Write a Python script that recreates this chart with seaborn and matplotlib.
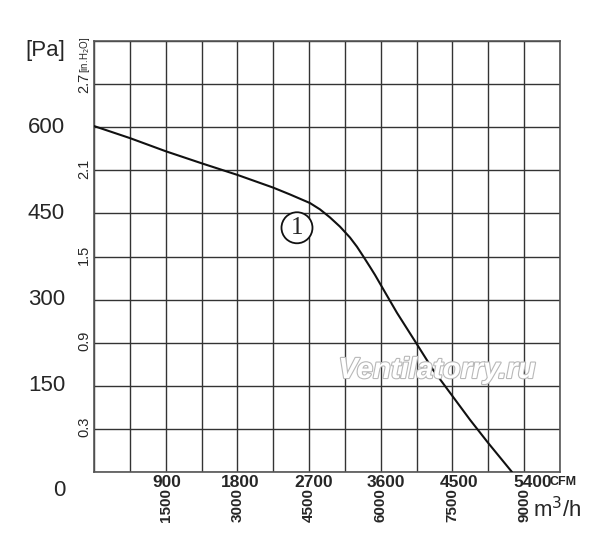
import matplotlib
matplotlib.use("Agg")
import matplotlib.pyplot as plt
import matplotlib.patheffects as pe
import matplotlib.transforms as mtrans
import seaborn as sns
import pandas as pd

# ---- data ----
flow_m3h = [0, 753, 1506, 2259, 3000, 3745, 4100, 4519, 4728, 4937, 5146,
            5356, 5502, 5628, 5774, 5879, 6004, 6339, 6736, 7092, 7510,
            7866, 8243, 8745]
pressure_pa = [602, 581, 558, 537, 517, 495, 483, 468, 457, 443, 427,
               408, 392, 376, 357, 343, 325, 277, 225, 178, 131,
               91, 51, 0]

pa_ticks = [0, 150, 300, 450, 600]
inh2o_ticks = [0.3, 0.9, 1.5, 2.1, 2.7]
cfm_ticks = [900, 1800, 2700, 3600, 4500, 5400]
m3h_ticks = [1500, 3000, 4500, 6000, 7500, 9000]

X_MAX = 9750
Y_MAX = 750
GRID_X = 750
GRID_Y = 75
PA_PER_INH2O = 249.089
M3H_PER_CFM = 1.699

sns.set_style("white")
plt.rcParams['font.family'] = ['Liberation Sans', 'DejaVu Sans']

fig = plt.figure(figsize=(6.0, 5.42), dpi=100)
ax = fig.add_axes([94/600, 70/542, 466/600, 431/542])

df = pd.DataFrame({"flow": flow_m3h, "pressure": pressure_pa})
sns.lineplot(data=df, x="flow", y="pressure", ax=ax, color="#111111",
             linewidth=1.5, zorder=5)

ax.set_xlim(0, X_MAX)
ax.set_ylim(0, Y_MAX)

gx = [i * GRID_X for i in range(int(X_MAX / GRID_X) + 1)]
gy = [i * GRID_Y for i in range(int(Y_MAX / GRID_Y) + 1)]
ax.set_xticks(gx, minor=True)
ax.set_yticks(gy)
ax.set_yticklabels([])
ax.grid(True, which="minor", axis="x", color="#333333", linewidth=1.0)
ax.grid(True, which="major", axis="y", color="#333333", linewidth=1.0)
ax.tick_params(axis="y", length=0)
ax.tick_params(axis="x", which="minor", length=0)

cfm_pos = [c * M3H_PER_CFM for c in cfm_ticks]
ax.set_xticks(cfm_pos)
ax.set_xticklabels([str(c) for c in cfm_ticks])
ax.tick_params(axis="x", which="major", direction="in", length=4,
               width=1, color="#555555", pad=2, labelsize=12.5)
for lab in ax.get_xticklabels():
    lab.set_fontweight("bold")

for s in ax.spines.values():
    s.set_color("#555555")
    s.set_linewidth(1.2)
ax.set_xlabel("")
ax.set_ylabel("")

# Pa labels
ytr = mtrans.blended_transform_factory(fig.transFigure, ax.transData)
for v in pa_ticks:
    if v == 0:
        continue
    ax.text(65/600, v, str(v), transform=ytr, ha="right", va="center",
            fontsize=16)
fig.text(65/600, 1 - 490/542, "0", ha="right", va="center", fontsize=16)
fig.text(45/600, 1 - 51/542, "[Pa]", ha="center", va="center", fontsize=16)

# inH2O labels
for v in inh2o_ticks:
    ax.text(84/600, v * PA_PER_INH2O + 4, f"{v}", transform=ytr,
            ha="center", va="center", rotation=90, fontsize=10.5)
fig.text(85/600, 1 - 55/542, "[in.H$_2$O]", ha="center", va="center",
         rotation=90, fontsize=7)

# m3/h labels
xtr = mtrans.blended_transform_factory(ax.transData, fig.transFigure)
for v in m3h_ticks:
    ax.text(v, 1 - 505/542, str(v), transform=xtr, ha="center", va="center",
            rotation=90, fontsize=11, fontweight="bold")
fig.text(563/600, 1 - 482/542, "CFM", ha="center", va="center", fontsize=9,
         fontweight="bold")
fig.text(557/600, 1 - 510/542, "m$^3$/h", ha="center", va="center",
         fontsize=16)

# curve label (circled 1)
ax.text(4247, 425, "1", ha="center", va="center", fontsize=18,
        family=["Liberation Serif", "DejaVu Serif"], zorder=6,
        bbox=dict(boxstyle="circle,pad=0.18", fc="white", ec="#111111",
                  lw=1.3))

# watermark
fig.text(437/600, 1 - 370/542, "Ventilatorry.ru", ha="center", va="center",
         fontsize=21, style="italic", fontweight="bold", color="white",
         zorder=10,
         path_effects=[pe.withStroke(linewidth=1.6, foreground="#b8b8b8")])

fig.savefig("out.png", dpi=100)
